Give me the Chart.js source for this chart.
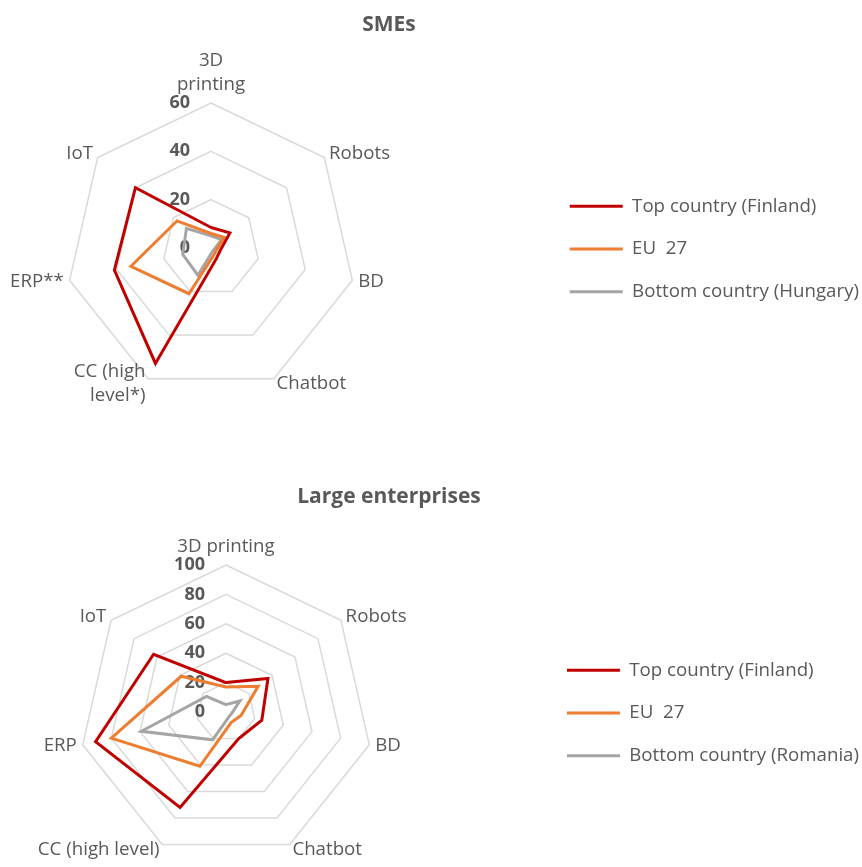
<!DOCTYPE html>
<html>
<head>
<meta charset="utf-8">
<title>Digital technologies - SMEs / Large enterprises</title>
<script src="https://cdn.jsdelivr.net/npm/chart.js@4.4.0/dist/chart.umd.min.js"></script>
<style>
    body { margin: 0; background: #ffffff; }
    canvas { display: block; }
</style>
</head>
<body>
<canvas id="sme-chart" width="862" height="433"></canvas>
<canvas id="large-chart" width="862" height="434"></canvas>
<script>
// Eixos (ordem horária a partir do topo)
const smeAxes = [['3D', 'printing'], 'Robots', 'BD', 'Chatbot', ['CC (high', 'level*)'], 'ERP**', 'IoT'];
const largeAxes = ['3D printing', 'Robots', 'BD', 'Chatbot', 'CC (high level)', 'ERP', 'IoT'];

// Escalas
const smeMax = 60;
const largeMax = 100;
const tickStep = 20;

// Séries - PMEs (%)
const smeFinland = [8.5, 10, 4, 5, 53, 41, 40];
const smeEU27 = [6, 7, 2.5, 3, 21, 34, 18];
const smeHungary = [5, 5.5, 1.5, 1.5, 12.5, 12, 13];

// Séries - grandes empresas (%)
const largeFinland = [20, 36.5, 25, 20, 72, 91, 63];
const largeEU27 = [17, 28, 10.5, 8, 41, 80, 39];
const largeRomania = [5, 12, 4, 4, 21, 59, 17];

const colors = {
    top: '#C00000',
    eu: '#ED7D31',
    bottom: '#A5A5A5',
    text: '#595959',
    grid: '#D9D9D9'
};
const FONT = '"Open Sans", sans-serif';
const LABEL_SIZE = 18.7;

// Títulos, rótulos dos ticks e dos eixos desenhados à mão
const radarExtras = {
    id: 'radarExtras',
    beforeDatasetsDraw(chart, args, opts) {
        const scale = chart.scales.r;
        const ctx = chart.ctx;
        ctx.save();
        ctx.fillStyle = colors.text;

        // ticks
        ctx.font = 'bold 18px ' + FONT;
        ctx.textAlign = 'right';
        ctx.textBaseline = 'middle';
        scale.ticks.forEach(t => {
            const p = scale.getPointPositionForValue(0, t.value);
            ctx.fillText(String(t.value), scale.xCenter - 21, p.y);
        });

        // rótulos dos eixos
        ctx.font = LABEL_SIZE + 'px ' + FONT;
        const lh = 24;
        chart.data.labels.forEach((label, i) => {
            const lines = Array.isArray(label) ? label : [label];
            const a = scale.getIndexAngle(i);
            const dx = Math.sin(a);
            if (Math.abs(dx) < 0.01) {
                const p = scale.getPointPosition(i, scale.drawingArea + 9);
                ctx.textAlign = 'center';
                ctx.textBaseline = 'bottom';
                lines.forEach((ln, k) => ctx.fillText(ln, p.x, p.y - (lines.length - 1 - k) * lh));
            } else {
                const p = scale.getPointPosition(i, scale.drawingArea + 6);
                ctx.textAlign = dx > 0 ? 'left' : 'right';
                ctx.textBaseline = 'middle';
                const y0 = p.y - (lines.length - 1) * lh / 2;
                lines.forEach((ln, k) => ctx.fillText(ln, p.x, y0 + k * lh));
            }
        });
        ctx.restore();
    },
    afterDraw(chart, args, opts) {
        const ctx = chart.ctx;
        ctx.save();
        ctx.fillStyle = colors.text;
        ctx.font = 'bold 21px ' + FONT;
        ctx.textAlign = 'center';
        ctx.textBaseline = 'middle';
        ctx.fillText(opts.title, opts.titleX, opts.titleY);
        ctx.restore();
    }
};

function makeDataset(label, data, color) {
    return {
        label: label,
        data: data,
        borderColor: color,
        backgroundColor: color,
        borderWidth: 3,
        borderJoinStyle: 'miter',
        pointRadius: 0,
        pointHoverRadius: 0,
        fill: false,
        tension: 0,
        clip: false
    };
}

function createRadar(canvasId, cfg) {
    const ctx = document.getElementById(canvasId);
    return new Chart(ctx, {
        type: 'radar',
        data: {
            labels: cfg.labels,
            datasets: cfg.series.map(s => makeDataset(s[0], s[1], s[2]))
        },
        options: {
            responsive: false,
            animation: false,
            events: [],
            layout: { padding: { top: cfg.legendTop, right: -7, left: 0, bottom: 0 } },
            plugins: {
                tooltip: { enabled: false },
                legend: {
                    position: 'right',
                    align: 'center',
                    labels: {
                        boxWidth: 53,
                        boxHeight: 3,
                        padding: 24,
                        color: colors.text,
                        font: { family: FONT, size: LABEL_SIZE },
                        generateLabels(chart) {
                            return Chart.defaults.plugins.legend.labels.generateLabels(chart).map(item => {
                                item.fillStyle = item.strokeStyle;
                                item.lineWidth = 0;
                                return item;
                            });
                        }
                    }
                },
                radarExtras: { title: cfg.title, titleX: 389, titleY: cfg.titleY }
            },
            scales: {
                r: {
                    min: 0,
                    max: cfg.max,
                    ticks: { stepSize: tickStep, display: false },
                    grid: { color: colors.grid, lineWidth: 1.5 },
                    angleLines: { display: false },
                    pointLabels: { display: false },
                    afterFit(scale) {
                        // posição e raio iguais ao original
                        scale.xCenter = cfg.cx;
                        scale.yCenter = cfg.cy;
                        scale.drawingArea = cfg.radius;
                    }
                }
            }
        },
        plugins: [radarExtras]
    });
}

createRadar('sme-chart', {
    title: 'SMEs',
    titleY: 25,
    labels: smeAxes,
    max: smeMax,
    cx: 211, cy: 248, radius: 145,
    legendTop: 65,
    series: [
        ['Top country (Finland)', smeFinland, colors.top],
        ['EU  27', smeEU27, colors.eu],
        ['Bottom country (Hungary)', smeHungary, colors.bottom]
    ]
});

createRadar('large-chart', {
    title: 'Large enterprises',
    titleY: 64,
    labels: largeAxes,
    max: largeMax,
    cx: 226, cy: 279, radius: 147,
    legendTop: 126,
    series: [
        ['Top country (Finland)', largeFinland, colors.top],
        ['EU  27', largeEU27, colors.eu],
        ['Bottom country (Romania)', largeRomania, colors.bottom]
    ]
});
</script>
</body>
</html>
